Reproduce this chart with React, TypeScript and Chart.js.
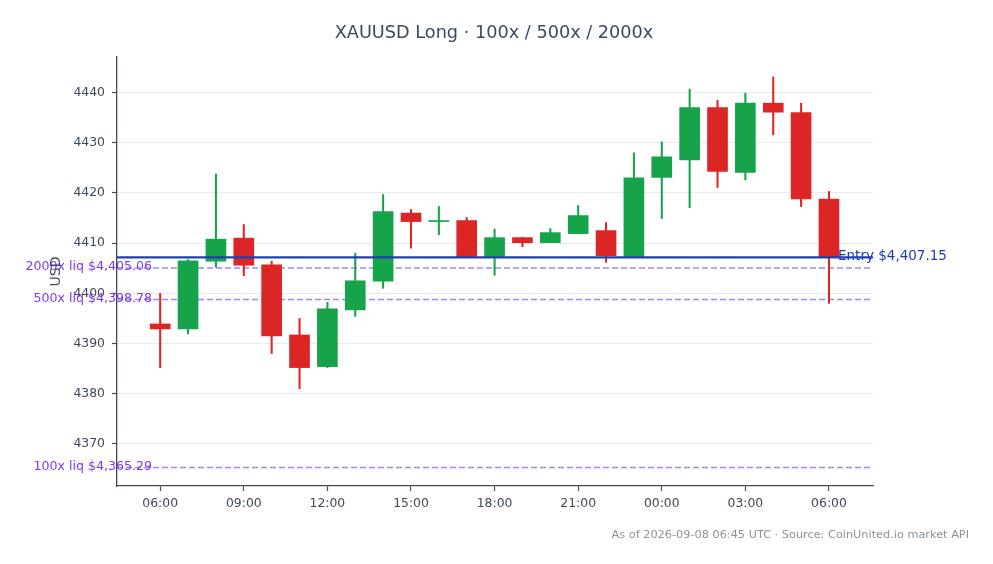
import React, { useEffect, useRef } from 'react';
import { Chart, registerables } from 'chart.js';

Chart.register(...registerables);

// hourly candles, 06:00 -> 06:00 next day
const hours = [
  '06:00', '07:00', '08:00', '09:00', '10:00', '11:00', '12:00', '13:00', '14:00',
  '15:00', '16:00', '17:00', '18:00', '19:00', '20:00', '21:00', '22:00', '23:00',
  '00:00', '01:00', '02:00', '03:00', '04:00', '05:00', '06:00',
];
const opens = [
  4393.9, 4392.9, 4406.4, 4411.0, 4405.7, 4391.7, 4385.4, 4396.7, 4402.4, 4416.0,
  4414.3, 4414.5, 4407.2, 4411.1, 4410.1, 4411.9, 4412.5, 4407.2, 4423.1, 4426.6,
  4437.0, 4424.1, 4437.9, 4436.0, 4418.8,
];
const closes = [
  4392.9, 4406.5, 4410.8, 4405.6, 4391.5, 4385.2, 4396.9, 4402.5, 4416.3, 4414.3,
  4414.4, 4407.2, 4411.1, 4410.1, 4412.1, 4415.5, 4407.5, 4423.0, 4427.2, 4437.0,
  4424.3, 4437.9, 4436.1, 4418.8, 4407.15,
];
const highs = [
  4400.0, 4406.7, 4423.8, 4413.7, 4406.4, 4395.0, 4398.2, 4408.0, 4419.7, 4416.7,
  4417.3, 4415.1, 4412.8, 4411.2, 4412.9, 4417.5, 4414.1, 4428.0, 4430.2, 4440.7,
  4438.5, 4439.9, 4443.1, 4437.9, 4420.3,
];
const lows = [
  4385.2, 4391.9, 4405.2, 4403.5, 4388.0, 4381.0, 4385.2, 4395.4, 4401.0, 4409.0,
  4411.7, 4407.2, 4403.6, 4409.3, 4410.1, 4411.9, 4406.2, 4407.2, 4414.9, 4417.1,
  4421.1, 4422.6, 4431.6, 4417.3, 4398.0,
];

const entryPrice = 4407.15;
const entryLabel = 'Entry $4,407.15';
const liqLevels = [4405.06, 4398.78, 4365.29];
const liqLabels = ['2000x liq $4,405.06', '500x liq $4,398.78', '100x liq $4,365.29'];
const yTicks = [4370, 4380, 4390, 4400, 4410, 4420, 4430, 4440];
const xTicks = [0, 3, 6, 9, 12, 15, 18, 21, 24];

const UP = '#16a34a';
const DOWN = '#dc2626';
const INK = '#3d4a5c';
const FONT = '"DejaVu Sans", sans-serif';

const candleColors = opens.map((o, i) => (closes[i] >= o ? UP : DOWN));

const overlayPlugin = {
  id: 'overlay',
  beforeDatasetsDraw(chart: any) {
    const { ctx, chartArea: a, scales } = chart;
    const y = scales.y;
    ctx.save();
    // liquidation levels sit behind the candles
    ctx.strokeStyle = '#a784f0';
    ctx.lineWidth = 1.6;
    ctx.setLineDash([6, 3]);
    liqLevels.forEach((v) => {
      const py = y.getPixelForValue(v);
      ctx.beginPath();
      ctx.moveTo(a.left, py);
      ctx.lineTo(a.right, py);
      ctx.stroke();
    });
    ctx.restore();
  },
  afterDatasetsDraw(chart: any) {
    const { ctx, chartArea: a, scales } = chart;
    const y = scales.y;
    ctx.save();

    // entry on top
    const ey = y.getPixelForValue(entryPrice);
    ctx.strokeStyle = '#1e40af';
    ctx.lineWidth = 2.2;
    ctx.beginPath();
    ctx.moveTo(a.left, ey);
    ctx.lineTo(a.right, ey);
    ctx.stroke();

    ctx.textBaseline = 'middle';
    ctx.font = `12.6px ${FONT}`;
    ctx.fillStyle = '#7c3aed';
    ctx.textAlign = 'right';
    liqLevels.forEach((v, i) => {
      ctx.fillText(liqLabels[i], a.left + 35, y.getPixelForValue(v) - 1);
    });

    ctx.font = `13.5px ${FONT}`;
    ctx.fillStyle = '#1e40af';
    ctx.textAlign = 'left';
    ctx.fillText(entryLabel, a.right - 35, ey - 1);
    ctx.restore();
  },
  afterDraw(chart: any) {
    const { ctx, chartArea: a } = chart;
    ctx.save();
    ctx.fillStyle = INK;
    ctx.textAlign = 'center';
    ctx.textBaseline = 'alphabetic';
    ctx.font = `17.7px ${FONT}`;
    ctx.fillText('XAUUSD Long · 100x / 500x / 2000x', 494, 37.5);

    ctx.fillStyle = '#8a929e';
    ctx.textAlign = 'right';
    ctx.font = `11.3px ${FONT}`;
    ctx.fillText('As of 2026-09-08 06:45 UTC · Source: CoinUnited.io market API', 969, 537.5);

    ctx.translate(56, (a.top + a.bottom) / 2);
    ctx.rotate(-Math.PI / 2);
    ctx.fillStyle = INK;
    ctx.textAlign = 'center';
    ctx.textBaseline = 'middle';
    ctx.font = `14px ${FONT}`;
    ctx.fillText('USD', 0, 0);
    ctx.restore();
  },
};

const App: React.FC = () => {
  const canvasRef = useRef<HTMLCanvasElement>(null);
  const chartRef = useRef<Chart | null>(null);

  useEffect(() => {
    document.body.style.margin = '0';
    if (!canvasRef.current) return;
    const ctx = canvasRef.current.getContext('2d');
    if (!ctx) return;
    if (chartRef.current) chartRef.current.destroy();

    chartRef.current = new Chart(ctx, {
      type: 'bar',
      data: {
        datasets: [
          {
            label: 'body',
            data: opens.map((o, i) => ({ x: i, y: [o, closes[i]] })) as any,
            backgroundColor: candleColors,
            barThickness: 20,
            minBarLength: 1,
            grouped: false,
            order: 0,
          },
          {
            label: 'wick',
            data: lows.map((l, i) => ({ x: i, y: [l, highs[i]] })) as any,
            backgroundColor: candleColors,
            barThickness: 1.4,
            grouped: false,
            order: 1,
          },
        ],
      },
      options: {
        responsive: false,
        animation: false,
        layout: { padding: { top: 57, right: 120, left: 0, bottom: 0 } },
        plugins: { legend: { display: false }, tooltip: { enabled: false }, title: { display: false } },
        scales: {
          x: {
            type: 'linear',
            offset: false,
            min: -1.55,
            max: 25.58,
            afterFit: (s: any) => { s.height = 78; },
            afterBuildTicks: (s: any) => { s.ticks = xTicks.map((v) => ({ value: v })); },
            grid: { offset: false, drawOnChartArea: false, drawTicks: true, tickLength: 5, tickColor: INK, tickWidth: 1.2 },
            border: { color: INK, width: 1.3 },
            ticks: {
              color: INK,
              padding: 5,
              font: { family: FONT, size: 12.4 },
              callback: (v: any) => hours[v as number] ?? '',
            },
          },
          y: {
            type: 'linear',
            min: 4361.6,
            max: 4447.1,
            afterFit: (s: any) => { s.width = 117; },
            afterBuildTicks: (s: any) => { s.ticks = yTicks.map((v) => ({ value: v })); },
            grid: { color: '#e8eaee', lineWidth: 1, drawTicks: true, tickLength: 5, tickColor: INK, tickWidth: 1.2 },
            border: { color: INK, width: 1.3 },
            ticks: {
              color: INK,
              padding: 7,
              font: { family: FONT, size: 12.4 },
              callback: (v: any) => String(v),
            },
          },
        },
      },
      plugins: [overlayPlugin],
    });

    return () => {
      if (chartRef.current) {
        chartRef.current.destroy();
        chartRef.current = null;
      }
    };
  }, []);

  return (
    <div style={{ width: 993, height: 564, background: '#ffffff' }}>
      <canvas ref={canvasRef} width={993} height={564} style={{ width: 993, height: 564, display: 'block' }} />
    </div>
  );
};

export default App;
